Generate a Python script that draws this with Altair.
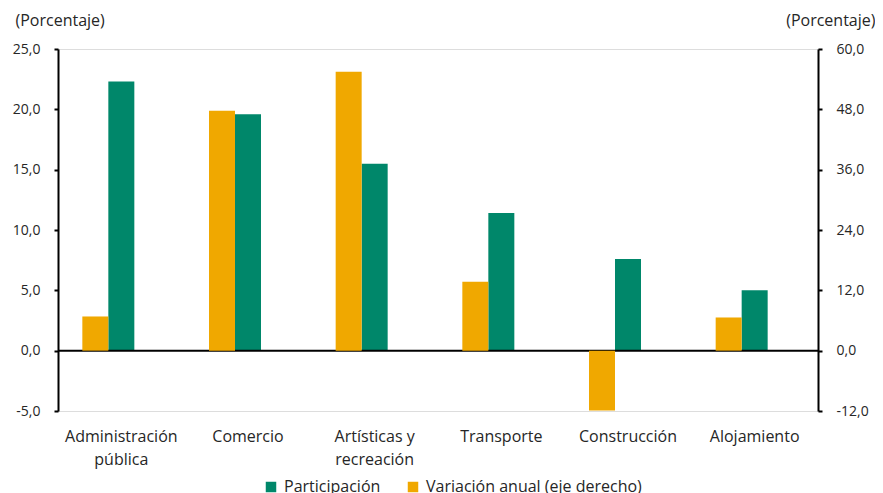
import altair as alt
import pandas as pd

categories = ["Administración|pública", "Comercio", "Artísticas y|recreación",
              "Transporte", "Construcción", "Alojamiento"]
participacion = [22.3, 19.6, 15.5, 11.4, 7.6, 5.0]
variacion = [6.8, 47.7, 55.5, 13.7, -11.9, 6.6]
series = ["Participación", "Variación anual (eje derecho)"]
left_ticks = [-5, 0, 5, 10, 15, 20, 25]
right_ticks = [-12, 0, 12, 24, 36, 48, 60]

GREEN = "#00876a"
ORANGE = "#f0a800"
FONT = "Open Sans"
FS_NUM = 14
FS_TXT = 16
TXT = "#262626"

df_p = pd.DataFrame({"cat": categories, "val": participacion, "serie": series[0]})
df_v = pd.DataFrame({"cat": categories, "val": variacion, "serie": series[1]})

xenc = alt.X("cat:N", sort=categories, title=None,
             scale=alt.Scale(paddingInner=0.4, paddingOuter=0.2),
             axis=alt.Axis(orient="bottom", domain=False, ticks=False, labelAngle=0,
                           labelExpr="split(datum.label, '|')", labelPadding=17,
                           labelFont=FONT, labelFontSize=FS_TXT, labelColor=TXT,
                           labelLineHeight=23, labelBaseline="top"))

color = alt.Color("serie:N", scale=alt.Scale(domain=series, range=[GREEN, ORANGE]),
                  legend=alt.Legend(title=None, orient="none", direction="horizontal",
                                    legendX=205, legendY=430, symbolType="square",
                                    symbolSize=110, symbolStrokeWidth=0,
                                    labelFont=FONT, labelFontSize=FS_TXT, labelColor=TXT,
                                    labelLimit=400, columnPadding=24, labelOffset=5))

axis_common = dict(grid=False,
                   labelExpr="replace(replace(format(datum.value, '.1f'), '.', ','), '\u2212', '-')",
                   domainColor="black", domainWidth=2, tickColor="black",
                   tickSize=4, tickWidth=2, labelPadding=14,
                   labelFont=FONT, labelFontSize=FS_NUM, labelColor=TXT,
                   titleAngle=0, titleBaseline="middle", titleY=-29,
                   titleFont=FONT, titleFontSize=FS_TXT, titleFontWeight="normal",
                   titleColor=TXT)

green = alt.Chart(df_p).mark_bar(width=26, xOffset=0).encode(
    x=xenc,
    y=alt.Y("val:Q", title="(Porcentaje)",
            scale=alt.Scale(domain=[-5, 25], nice=False, zero=False),
            axis=alt.Axis(orient="left", values=left_ticks, titleAlign="left",
                          titleX=-43, **axis_common)),
    color=color,
)

zero = alt.Chart(pd.DataFrame({"z": [0]})).mark_rule(color="black", strokeWidth=2).encode(
    y=alt.Y("z:Q")
)

orange = alt.Chart(df_v).mark_bar(width=26, xOffset=-26).encode(
    x=xenc,
    y=alt.Y("val:Q", title="(Porcentaje)",
            scale=alt.Scale(domain=[-12, 60], nice=False, zero=False),
            axis=alt.Axis(orient="right", values=right_ticks, titleAlign="right",
                          titleX=57, **axis_common)),
    color=color,
)

chart = alt.layer(alt.layer(green, zero), orange).resolve_scale(y="independent").properties(
    width=760, height=362,
    autosize=alt.AutoSizeParams(type="none"),
    padding={"left": 50, "top": 41, "right": 57, "bottom": 82},
).configure_view(stroke=None).configure(background="white")

chart.save("out.html", embed_options={"renderer": "svg", "actions": False})
